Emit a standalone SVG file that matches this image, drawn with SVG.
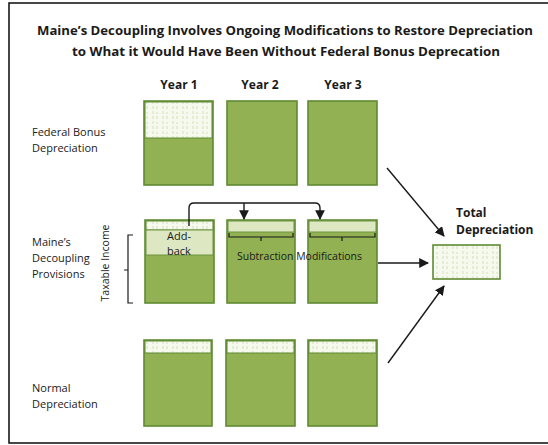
<svg xmlns="http://www.w3.org/2000/svg" width="548" height="445" viewBox="0 0 548 445">
<style>
.t{font-family:"Open Sans","Liberation Sans",sans-serif;fill:#1a1a1a}
.b{font-weight:bold}
.box{fill:#92b152;stroke:#5f8a33;stroke-width:1.6}
.wh{fill:url(#pat);stroke:#5f8a33;stroke-width:1}
.lt{fill:#dde8c3;stroke:#6f9440;stroke-width:1}
.ln{fill:none;stroke:#1a1a1a;stroke-width:1.4}
.br{fill:none;stroke:#1a1a1a;stroke-width:1.2}
</style>
<defs>
<pattern id="pat" width="10" height="10" patternUnits="userSpaceOnUse">
<rect width="10" height="10" fill="#f6f9ee"/>
<path d="M3,1 v3 M3,6 v3 M7,2 v2 M7,6 v3" stroke="#c9d9a8" stroke-width="0.8"/>
</pattern>
<marker id="ah" viewBox="0 0 10 10" refX="9" refY="5" markerWidth="7" markerHeight="7" orient="auto">
<path d="M0,0 L10,5 L0,10 z" fill="#1a1a1a"/>
</marker>
</defs>
<rect x="9" y="3" width="545" height="440" fill="#fff" stroke="#1a1a1a" stroke-width="1.6"/>
<g id="title">
<text class="t b" x="285" y="35" font-size="12.8" text-anchor="middle" textLength="496" lengthAdjust="spacingAndGlyphs">Maine’s Decoupling Involves Ongoing Modifications to Restore Depreciation</text>
<text class="t b" x="286" y="56" font-size="12.8" text-anchor="middle" textLength="428" lengthAdjust="spacingAndGlyphs">to What it Would Have Been Without Federal Bonus Deprecation</text>
</g>
<g id="years">
<text class="t b" x="179" y="89" font-size="12" text-anchor="middle">Year 1</text>
<text class="t b" x="260" y="89" font-size="12" text-anchor="middle">Year 2</text>
<text class="t b" x="343" y="89" font-size="12" text-anchor="middle">Year 3</text>
</g>
<g id="labels">
<text class="t" x="32" y="136" font-size="11">Federal Bonus</text>
<text class="t" x="32" y="152" font-size="11">Depreciation</text>
<text class="t" x="32" y="246" font-size="11">Maine’s</text>
<text class="t" x="32" y="262" font-size="11">Decoupling</text>
<text class="t" x="32" y="278" font-size="11">Provisions</text>
<text class="t" x="32" y="392" font-size="11">Normal</text>
<text class="t" x="32" y="408" font-size="11">Depreciation</text>
</g>
<g id="fed-y1"><rect class="box" x="144" y="101" width="69" height="84"/><rect class="wh" x="145" y="102" width="67" height="36"/></g>
<g id="fed-y2"><rect class="box" x="227" y="101" width="70" height="84"/></g>
<g id="fed-y3"><rect class="box" x="308" y="101" width="69" height="84"/></g>
<g id="me-y1"><rect class="box" x="145" y="220" width="69" height="83"/><rect class="wh" x="146" y="221" width="67" height="9"/><rect class="lt" x="146" y="230" width="67" height="25"/>
<text class="t" x="167" y="240" font-size="11">Add-</text><text class="t" x="167" y="255" font-size="11">back</text></g>
<g id="me-y2"><rect class="box" x="227" y="220" width="68" height="83"/><rect class="lt" x="228" y="221" width="66" height="11"/></g>
<g id="me-y3"><rect class="box" x="308" y="220" width="69" height="83"/><rect class="lt" x="309" y="221" width="67" height="11"/></g>
<g id="norm-y1"><rect class="box" x="144" y="340" width="68" height="86"/><rect class="wh" x="145" y="341" width="66" height="12"/></g>
<g id="norm-y2"><rect class="box" x="226" y="340" width="69" height="86"/><rect class="wh" x="227" y="341" width="67" height="12"/></g>
<g id="norm-y3"><rect class="box" x="308" y="340" width="69" height="86"/><rect class="wh" x="309" y="341" width="67" height="12"/></g>
<g id="total"><rect class="box" x="433" y="245" width="67" height="34" style="fill:url(#pat)"/>
<text class="t b" x="456" y="217" font-size="12">Total</text><text class="t b" x="456" y="234" font-size="12">Depreciation</text></g>
<g id="taxable">
<text class="t" x="0" y="0" font-size="10.5" text-anchor="middle" transform="translate(109,263) rotate(-90)">Taxable Income</text>
<path class="br" d="M133,235 H128 V303 H133 M128,270 H124"/>
</g>
<g id="connectors">
<path class="ln" d="M189,226 V208 Q189,203 194,203 H315 Q320,203 320,208 V219" marker-end="url(#ah)"/>
<path class="ln" d="M244,203 V219" marker-end="url(#ah)"/>
<path class="br" d="M229,233 V237 H293 V233 M261,237 V241"/>
<path class="br" d="M310,233 V237 H375 V233 M342,237 V241"/>
<path class="ln" d="M387,168 L444,236" marker-end="url(#ah)"/>
<path class="ln" d="M378,263 L428,263" marker-end="url(#ah)"/>
<path class="ln" d="M388,363 L444,286" marker-end="url(#ah)"/>
</g>
<text class="t" x="237" y="260" font-size="11" textLength="125" lengthAdjust="spacingAndGlyphs">Subtraction Modifications</text>
</svg>
